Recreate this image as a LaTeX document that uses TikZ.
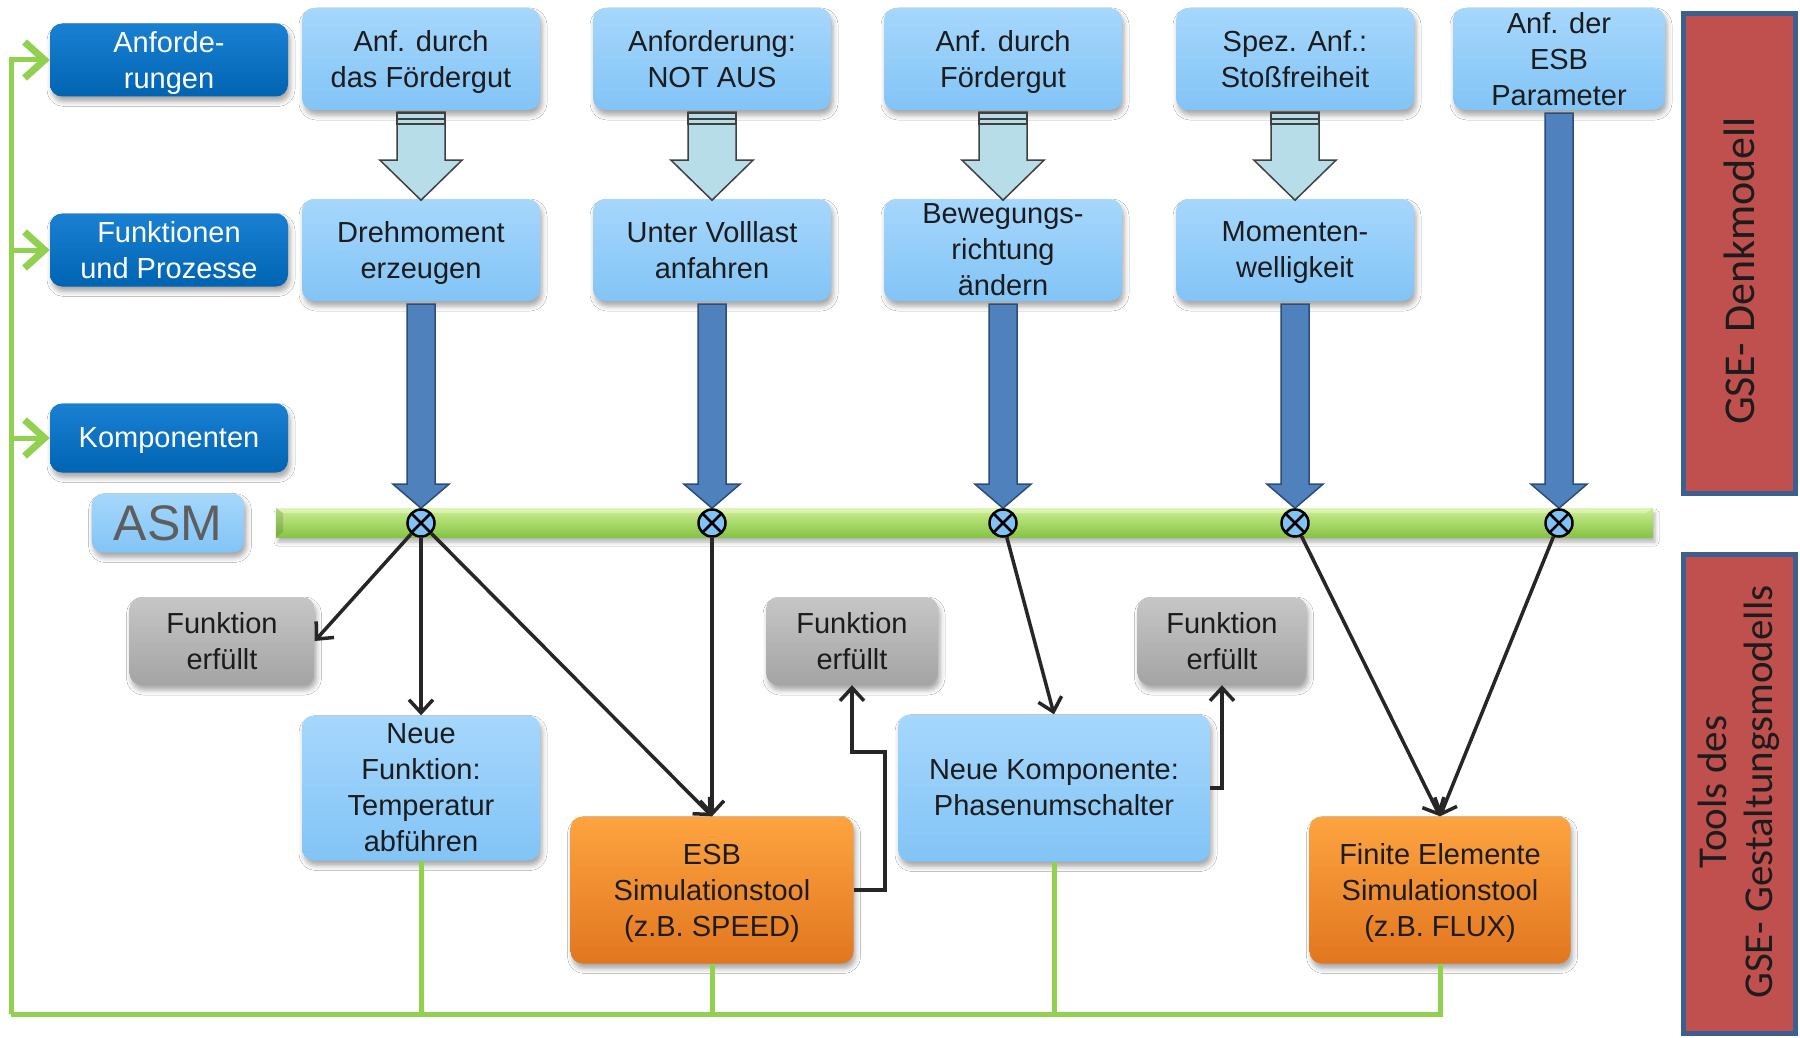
\documentclass[tikz,border=0pt]{standalone}
\usepackage{fontspec}
\setmainfont{Liberation Sans}
\newfontfamily\calib{Carlito}
\usetikzlibrary{arrows.meta,shadows.blur,calc}

\definecolor{lbT}{HTML}{A6D7FC}
\definecolor{lbB}{HTML}{82C4F6}
\definecolor{dbT}{HTML}{1A80D2}
\definecolor{dbB}{HTML}{0064B2}
\definecolor{grT}{HTML}{C6C6C6}
\definecolor{grB}{HTML}{A4A4A4}
\definecolor{orT}{HTML}{FDA440}
\definecolor{orB}{HTML}{E2761F}
\definecolor{txt}{HTML}{1C1C1C}
\definecolor{asmtxt}{HTML}{5E5E5E}
\definecolor{conn}{HTML}{262626}
\definecolor{lgreen}{HTML}{92D050}
\definecolor{barT}{HTML}{CDEF92}
\definecolor{barB}{HTML}{86C445}
\definecolor{hollow}{HTML}{B7DDE8}
\definecolor{blueA}{HTML}{4F81BD}
\definecolor{blueE}{HTML}{2C4D75}
\definecolor{redF}{HTML}{C0504D}
\definecolor{redE}{HTML}{3B5F8E}
\definecolor{xfill}{HTML}{80C3F7}

\tikzset{
  bx/.style={rounded corners=12pt, inner sep=0pt, align=center,
    font=\fontsize{29}{36}\selectfont, text=txt, text depth=0pt,
    blur shadow={shadow xshift=2pt, shadow yshift=-5pt,
      shadow blur radius=5pt, shadow opacity=35}},
  lb/.style={bx, top color=lbT, bottom color=lbB},
  db/.style={bx, top color=dbT, bottom color=dbB, text=white},
  gb/.style={bx, top color=grT, bottom color=grB},
  ob/.style={bx, top color=orT, bottom color=orB},
  redbox/.style={draw=redE, fill=redF, line width=5pt, inner sep=0pt},
  redtxt/.style={rotate=90, align=center, text=txt, font=\calib},
  xnode/.style={circle, draw=black, line width=2.5pt, fill=xfill,
    minimum size=27pt, inner sep=0pt,
    path picture={\draw[line width=2.5pt]
      (path picture bounding box.north west) -- (path picture bounding box.south east)
      (path picture bounding box.south west) -- (path picture bounding box.north east);}},
  link/.style={draw=conn, line width=3.5pt,
    -{Straight Barb[length=13pt,width=24pt]}},
  gline/.style={draw=lgreen, line width=5pt},
  garrow/.style={gline, -{Straight Barb[length=20pt,width=36pt,line width=7pt]}},
  hollowarrow/.style={fill=hollow, draw=black!75, line width=1.5pt, line join=miter},
  bluearrow/.style={fill=blueA, draw=blueE, line width=1.5pt, line join=miter}
}

\begin{document}
\begin{tikzpicture}[x=1pt,y=-1pt]
\useasboundingbox (0,0) rectangle (1800,1038);
\fill[white] (0,0) rectangle (1800,1038);

% level labels on the left
\node[db, minimum width=238pt, minimum height=73pt] (A1) at (169,60) {Anforde-\\rungen};
\node[db, minimum width=238pt, minimum height=73pt] (A2) at (169,250) {Funktionen\\und Prozesse};
\node[db, minimum width=238pt, minimum height=69pt] (A3) at (169,438) {Komponenten};
\node[lb, minimum width=153pt, minimum height=59pt, text=asmtxt,
      font=\fontsize{50}{56}\selectfont] (ASM) at (168,523) {ASM};

% requirements
\node[lb, minimum width=238pt, minimum height=102pt] (T1) at (421,59) {Anf. durch\\das Fördergut};
\node[lb, minimum width=238pt, minimum height=102pt] (T2) at (712,59) {Anforderung:\\NOT AUS};
\node[lb, minimum width=238pt, minimum height=102pt] (T3) at (1003,59) {Anf. durch\\Fördergut};
\node[lb, minimum width=238pt, minimum height=102pt] (T4) at (1295,59) {Spez. Anf.:\\Stoßfreiheit};
\node[lb, minimum width=212pt, minimum height=102pt] (T5) at (1559,59) {Anf. der\\ESB\\Parameter};

% functions
\node[lb, minimum width=238pt, minimum height=102pt] (M1) at (421,250) {Drehmoment\\erzeugen};
\node[lb, minimum width=238pt, minimum height=102pt] (M2) at (712,250) {Unter Volllast\\anfahren};
\node[lb, minimum width=238pt, minimum height=102pt] (M3) at (1003,250) {Bewegungs-\\richtung\\ändern};
\node[lb, minimum width=238pt, minimum height=102pt] (M4) at (1295,250) {Momenten-\\welligkeit};

% block arrows from requirement to function
\foreach \i in {1,...,4}{
  \begin{scope}[shift={(T\i.south)}]
    \draw[hollowarrow] (-24,2) -- (-24,50) -- (-41,50) -- (0,90) -- (41,50) -- (24,50) -- (24,2) -- cycle;
    \fill[hollow] (-24,2) rectangle (24,15);
    \foreach \yy in {3,9,14}{\draw[black!75, line width=2pt] (-24,\yy) -- (24,\yy);}
    \draw[black!75, line width=1.5pt] (-24,2) -- (-24,15) (24,2) -- (24,15);
  \end{scope}
}

% component bar
\shade[top color=barT, bottom color=barB,
  blur shadow={shadow xshift=2pt, shadow yshift=-5pt, shadow blur radius=4pt, shadow opacity=30}]
  (276,508) rectangle (1653,537);
\fill[white, opacity=0.35] (276,508) -- (1653,508) -- (1646,513) -- (283,513) -- cycle;
\fill[black, opacity=0.12] (276,508) -- (283,513) -- (283,532) -- (276,537) -- cycle;

% blue arrows down to the bar
\foreach \i in {1,...,4}{
  \begin{scope}[shift={(M\i.south)}]
    \draw[bluearrow] (-14,3) -- (-14,183) -- (-28,183) -- (0,207) -- (28,183) -- (14,183) -- (14,3) -- cycle;
  \end{scope}
}
\begin{scope}[shift={(T5.south)}]
  \draw[bluearrow] (-14,3) -- (-14,374) -- (-28,374) -- (0,398) -- (28,374) -- (14,374) -- (14,3) -- cycle;
\end{scope}

% crossing points
\node[xnode] (c1) at (421,523) {};
\node[xnode] (c2) at (712,523) {};
\node[xnode] (c3) at (1003,523) {};
\node[xnode] (c4) at (1295,523) {};
\node[xnode] (c5) at (1559,523) {};

% results and tools
\node[gb, minimum width=185pt, minimum height=88pt] (F1) at (222,641) {Funktion\\erfüllt};
\node[gb, minimum width=172pt, minimum height=88pt] (F2) at (852,641) {Funktion\\erfüllt};
\node[gb, minimum width=169pt, minimum height=88pt] (F3) at (1222,641) {Funktion\\erfüllt};
\node[lb, minimum width=238pt, minimum height=145pt] (NF) at (421,788) {Neue\\Funktion:\\Temperatur\\abführen};
\node[ob, minimum width=283pt, minimum height=147pt] (ESB) at (712,890) {ESB\\Simulationstool\\(z.B. SPEED)};
\node[lb, minimum width=312pt, minimum height=147pt] (NK) at (1054,788) {Neue Komponente:\\Phasenumschalter};
\node[ob, minimum width=261pt, minimum height=147pt] (FE) at (1440,890) {Finite Elemente\\Simulationstool\\(z.B. FLUX)};

% side panels
\node[redbox, minimum width=112pt, minimum height=480pt] (R1) at (1739.5,253.5) {};
\node[redtxt, font=\calib\fontsize{44}{46}\selectfont] (R1t) at (1739,271) {GSE- Denkmodell};
\node[redbox, minimum width=112pt, minimum height=479pt] (R2) at (1739.5,794) {};
\node[redtxt, font=\calib\fontsize{41}{46}\selectfont] (R2t) at (1739,792) {Tools des\\GSE- Gestaltungsmodells};

% evaluation links
\draw[link] (c1) -- (F1.east);
\draw[link] (c1) -- (NF.north);
\draw[link] (c1) -- (ESB.north);
\draw[link] (c2) -- (ESB.north);
\draw[link] (c3) -- (NK.north);
\draw[link] (c4) -- (FE.north);
\draw[link] (c5) -- (FE.north);
\coordinate (k1) at (885,752);
\draw[link] (ESB.east) -| (k1) -| (F2.south);
\draw[link] (NK.east) -| (F3.south);

% feedback loop
\coordinate (gl) at (11,1014);
\draw[gline] (FE.south) |- (gl);
\draw[gline] (NF.south) -- (NF.south |- gl);
\draw[gline] (ESB.south) -- (ESB.south |- gl);
\draw[gline] (NK.south) -- (NK.south |- gl);
\draw[garrow, line join=miter] (gl) -- (gl |- A1.west) -- (A1.west);
\draw[garrow] (gl |- A2.west) -- (A2.west);
\draw[garrow] (gl |- A3.west) -- (A3.west);
\end{tikzpicture}
\end{document}
